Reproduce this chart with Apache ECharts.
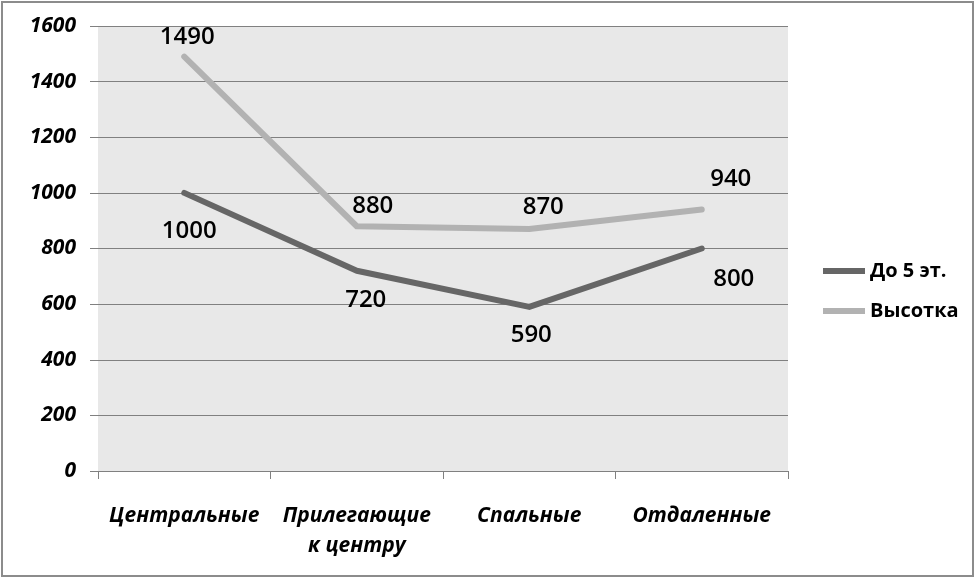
<!DOCTYPE html>
<html>
<head>
<meta charset="utf-8">
<script src="https://cdn.jsdelivr.net/npm/echarts@6/dist/echarts.min.js"></script>
<style>
  html, body { margin: 0; padding: 0; background: #fff; }
  #chart { width: 976px; height: 579px; }
</style>
</head>
<body>
<div id="chart"></div>
<script>
// категории и данные
var categories = ['Центральные', 'Прилегающие\nк центру', 'Спальные', 'Отдаленные'];
var lowRise = [1000, 720, 590, 800];
var highRise = [1490, 880, 870, 940];
var seriesNames = ['До 5 эт.', 'Высотка'];

var chart = echarts.init(document.getElementById('chart'));
var font = '"Open Sans", "Noto Sans", sans-serif';

// сдвиг подписей как в Excel
var lowOffsets = [[5, 12], [9, 3], [2, 2], [32, 4]];
var highOffsets = [[3, 3], [16, 2], [14, 1], [29, -8]];

function withOffsets(values, offsets) {
  return values.map(function (v, i) {
    return { value: v, label: { offset: offsets[i] } };
  });
}

var option = {
  animation: false,
  textStyle: { fontFamily: font },
  graphic: [{
    type: 'rect',
    shape: { x: 2, y: 2, width: 971, height: 574 },
    style: { fill: 'none', stroke: '#8c8c8c', lineWidth: 2 },
    silent: true
  }],
  grid: {
    left: 98, right: 188, top: 26, bottom: 108,
    show: true, backgroundColor: '#e8e8e8', borderWidth: 0
  },
  legend: {
    orient: 'vertical',
    left: 818, top: 256,
    itemWidth: 42, itemHeight: 6, itemGap: 20,
    icon: 'rect',
    textStyle: { fontSize: 20, fontWeight: 'bold', color: '#000', fontFamily: font },
    data: seriesNames
  },
  xAxis: {
    type: 'category',
    data: categories,
    boundaryGap: true,
    axisLine: { lineStyle: { color: '#808080', width: 1 } },
    axisTick: { show: true, length: 8, lineStyle: { color: '#808080' } },
    axisLabel: {
      margin: 30, fontSize: 21, fontStyle: 'italic', fontWeight: 'bold',
      color: '#000', lineHeight: 30, fontFamily: font, interval: 0
    }
  },
  yAxis: {
    type: 'value',
    min: 0, max: 1600, interval: 200,
    axisLine: { show: false },
    axisTick: { show: true, length: 8, lineStyle: { color: '#808080' } },
    splitLine: { lineStyle: { color: '#808080', width: 1 } },
    axisLabel: {
      margin: 22, fontSize: 21, fontStyle: 'italic', fontWeight: 'bold',
      color: '#000', fontFamily: font,
      formatter: function (v) { return String(v); }
    }
  },
  series: [{
    name: seriesNames[0],
    type: 'line',
    data: withOffsets(lowRise, lowOffsets),
    symbol: 'circle',
    symbolSize: 1,
    showSymbol: true,
    lineStyle: { width: 6, color: '#666666', cap: 'round', join: 'round' },
    itemStyle: { color: '#666666' },
    label: {
      show: true, position: 'bottom', distance: 14,
      fontSize: 24, fontWeight: 600, color: '#000', fontFamily: font
    }
  }, {
    name: seriesNames[1],
    type: 'line',
    data: withOffsets(highRise, highOffsets),
    symbol: 'circle',
    symbolSize: 1,
    showSymbol: true,
    lineStyle: { width: 6, color: '#b2b2b2', cap: 'round', join: 'round' },
    itemStyle: { color: '#b2b2b2' },
    label: {
      show: true, position: 'top', distance: 10,
      fontSize: 24, fontWeight: 600, color: '#000', fontFamily: font
    }
  }]
};

chart.setOption(option);
</script>
</body>
</html>
